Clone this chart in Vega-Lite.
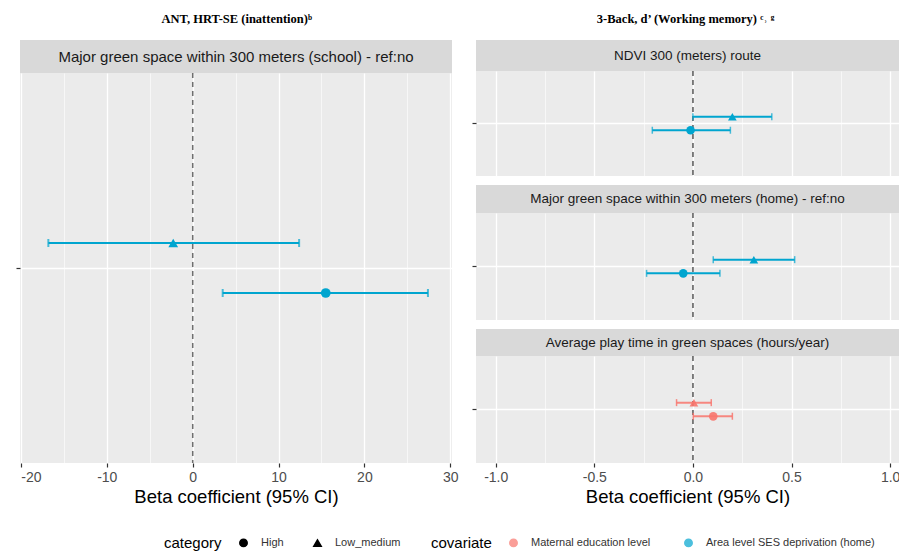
{
  "$schema": "https://vega.github.io/schema/vega-lite/v6.json",
  "background": "white",
  "padding": {"left": 15, "top": 12, "right": 0, "bottom": 6},
  "config": {
    "font": "Liberation Sans",
    "view": {"stroke": null},
    "axis": {"labelFont": "Liberation Sans", "titleFont": "Liberation Sans"},
    "legend": {"labelFont": "Liberation Sans", "titleFont": "Liberation Sans"},
    "title": {"font": "Liberation Serif", "fontWeight": "bold", "fontSize": 12.5, "color": "black", "anchor": "middle", "offset": 15}
  },
  "datasets": {
    "d": [
      {"panel": "Major green space within  300 meters (school) - ref:no", "outcome": "ANT, HRT-SE", "category": "Low_medium", "covariate": "Area level SES deprivation (home)", "beta": -2.26, "lo": -16.8, "hi": 12.4},
      {"panel": "Major green space within  300 meters (school) - ref:no", "outcome": "ANT, HRT-SE", "category": "High", "covariate": "Area level SES deprivation (home)", "beta": 15.5, "lo": 3.5, "hi": 27.4},
      {"panel": "NDVI 300 (meters) route", "outcome": "3-Back", "category": "Low_medium", "covariate": "Area level SES deprivation (home)", "beta": 0.2, "lo": 0.0, "hi": 0.4},
      {"panel": "NDVI 300 (meters) route", "outcome": "3-Back", "category": "High", "covariate": "Area level SES deprivation (home)", "beta": -0.012, "lo": -0.206, "hi": 0.19},
      {"panel": "Major green space within  300 meters (home) - ref:no", "outcome": "3-Back", "category": "Low_medium", "covariate": "Area level SES deprivation (home)", "beta": 0.309, "lo": 0.103, "hi": 0.516},
      {"panel": "Major green space within  300 meters (home) - ref:no", "outcome": "3-Back", "category": "High", "covariate": "Area level SES deprivation (home)", "beta": -0.049, "lo": -0.235, "hi": 0.137},
      {"panel": "Average play time in green spaces (hours/year)", "outcome": "3-Back", "category": "Low_medium", "covariate": "Maternal education level", "beta": 0.005, "lo": -0.083, "hi": 0.093},
      {"panel": "Average play time in green spaces (hours/year)", "outcome": "3-Back", "category": "High", "covariate": "Maternal education level", "beta": 0.103, "lo": 0.002, "hi": 0.2}
    ]
  },
  "data": {"name": "d"},
  "resolve": {"scale": {"color": "shared", "shape": "shared", "yOffset": "independent", "y": "independent"}},
  "spacing": 12,
  "hconcat": [
    {
      "title": {"text": "ANT, HRT-SE (inattention)ᵇ"},
      "bounds": "flush",
      "spacing": 0,
      "vconcat": [
        {
          "width": 432, "height": 33,
          "view": {"fill": "#D9D9D9", "stroke": null},
          "transform": [{"filter": "datum.panel === 'Major green space within  300 meters (school) - ref:no' && datum.category === 'High'"}],
          "mark": {"type": "text", "fontSize": 15, "color": "#1A1A1A", "font": "Liberation Sans"},
          "encoding": {"text": {"field": "panel"}}
        },
        {
          "width": 432, "height": 390,
          "view": {"fill": "#EBEBEB", "stroke": null},
          "transform": [{"filter": "datum.panel === 'Major green space within  300 meters (school) - ref:no'"}],
          "layer": [
            {
              "mark": {"type": "rule", "strokeDash": [5, 4], "color": "#6E6E6E", "strokeWidth": 1.3},
              "encoding": {"x": {"datum": 0, "type": "quantitative"}}
            },
            {
              "mark": {"type": "rule", "strokeWidth": 2},
              "encoding": {
                "x": {"field": "lo", "type": "quantitative",
                  "scale": {"domain": [-20.1, 30.2], "nice": false, "zero": false},
                  "axis": {
                    "values": [-20, -15, -10, -5, 0, 5, 10, 15, 20, 25, 30],
                    "labelExpr": "datum.value % 10 === 0 ? replace(datum.label, '−', '-') : ''",
                    "grid": true, "gridColor": "white",
                    "gridWidth": {"condition": {"test": "datum.value % 10 === 0", "value": 1.3}, "value": 0.6},
                    "tickColor": {"condition": {"test": "datum.value % 10 === 0", "value": "#333333"}, "value": "transparent"},
                    "tickSize": 4, "tickWidth": 1.2, "domain": false,
                    "labelFontSize": 14, "labelColor": "#4D4D4D", "labelPadding": 3,
                    "title": "Beta coefficient (95% CI)", "titleFontSize": 18.5, "titleFontWeight": "normal", "titleColor": "black", "titlePadding": 3
                  }},
                "x2": {"field": "hi"},
                "y": {"field": "panel", "type": "nominal", "scale": {"paddingInner": 0, "paddingOuter": 0},
                  "axis": {"labels": false, "title": null, "domain": false, "tickSize": 4, "tickColor": "#333333", "tickWidth": 1.2, "grid": true, "gridColor": "white", "gridWidth": 1.3}},
                "yOffset": {"field": "category", "type": "nominal", "scale": {"type": "band", "domain": ["_a", "_b", "Low_medium", "High", "_c", "_d"], "paddingInner": 0, "paddingOuter": 0.9}},
                "color": {"field": "covariate", "type": "nominal", "scale": {"domain": ["Maternal education level", "Area level SES deprivation (home)"], "range": ["#F8766D", "#00A5CF"]}}
              }
            },
            {
              "mark": {"type": "tick", "orient": "vertical", "size": 8, "thickness": 2},
              "encoding": {
                "x": {"field": "lo", "type": "quantitative"},
                "y": {"field": "panel", "type": "nominal"},
                "yOffset": {"field": "category", "type": "nominal"},
                "color": {"field": "covariate", "type": "nominal"}
              }
            },
            {
              "mark": {"type": "tick", "orient": "vertical", "size": 8, "thickness": 2},
              "encoding": {
                "x": {"field": "hi", "type": "quantitative"},
                "y": {"field": "panel", "type": "nominal"},
                "yOffset": {"field": "category", "type": "nominal"},
                "color": {"field": "covariate", "type": "nominal"}
              }
            },
            {
              "mark": {"type": "point", "filled": true, "size": 95, "opacity": 1},
              "encoding": {
                "x": {"field": "beta", "type": "quantitative"},
                "y": {"field": "panel", "type": "nominal"},
                "yOffset": {"field": "category", "type": "nominal"},
                "shape": {"field": "category", "type": "nominal", "scale": {"domain": ["High", "Low_medium"], "range": ["circle", "triangle-up"]},
                  "legend": {"title": "category", "orient": "none", "legendX": 144, "legendY": 497, "direction": "horizontal", "titleOrient": "left", "titleFontSize": 15, "titleFontWeight": "normal", "titleColor": "black", "labelFontSize": 11, "labelColor": "#333333", "symbolFillColor": "black", "symbolStrokeColor": "black", "symbolSize": 55, "columnPadding": 26, "labelOffset": 12, "titlePadding": 16}},
                "color": {"field": "covariate", "type": "nominal",
                  "legend": {"title": "covariate", "orient": "none", "legendX": 411, "legendY": 497, "direction": "horizontal", "titleOrient": "left", "titleFontSize": 15, "titleFontWeight": "normal", "titleColor": "black", "labelFontSize": 11, "labelColor": "#333333", "labelLimit": 300, "symbolType": "circle", "symbolSize": 55, "columnPadding": 30, "labelOffset": 12, "titlePadding": 16}}
              }
            }
          ]
        }
      ]
    },
    {
      "title": {"text": "3-Back, d’ (Working memory) ᶜ˒ ᵍ"},
      "spacing": 8,
      "resolve": {"scale": {"yOffset": "independent", "y": "independent"}},
      "vconcat": [
        {
          "bounds": "flush",
          "spacing": 0,
          "vconcat": [
            {
              "width": 423, "height": 31,
              "view": {"fill": "#D9D9D9", "stroke": null},
              "transform": [{"filter": "datum.panel === 'NDVI 300 (meters) route' && datum.category === 'High'"}],
              "mark": {"type": "text", "fontSize": 13.5, "color": "#1A1A1A", "font": "Liberation Sans"},
              "encoding": {"text": {"field": "panel"}}
            },
            {
              "width": 423, "height": 105,
              "view": {"fill": "#EBEBEB", "stroke": null},
              "transform": [{"filter": "datum.panel === 'NDVI 300 (meters) route'"}],
              "layer": [
                {"mark": {"type": "rule", "strokeDash": [5, 4], "color": "#6E6E6E", "strokeWidth": 1.3}, "encoding": {"x": {"datum": 0, "type": "quantitative"}}},
                {
                  "mark": {"type": "rule", "strokeWidth": 2},
                  "encoding": {
                    "x": {"field": "lo", "type": "quantitative", "scale": {"domain": [-1.1, 1.045], "nice": false, "zero": false},
                      "axis": {"values": [-1, -0.75, -0.5, -0.25, 0, 0.25, 0.5, 0.75, 1], "labels": false, "ticks": false, "domain": false, "title": null, "grid": true, "gridColor": "white",
                        "gridWidth": {"condition": {"test": "abs(datum.value * 2 - round(datum.value * 2)) < 0.001", "value": 1.3}, "value": 0.6}}},
                    "x2": {"field": "hi"},
                    "y": {"field": "panel", "type": "nominal", "scale": {"paddingInner": 0, "paddingOuter": 0},
                      "axis": {"labels": false, "title": null, "domain": false, "tickSize": 4, "tickColor": "#333333", "tickWidth": 1.2, "grid": true, "gridColor": "white", "gridWidth": 1.3}},
                    "yOffset": {"field": "category", "type": "nominal", "scale": {"type": "band", "domain": ["_a", "_b", "Low_medium", "High", "_c", "_d"], "paddingInner": 0, "paddingOuter": 0.9}},
                    "color": {"field": "covariate", "type": "nominal"}
                  }
                },
                {"mark": {"type": "tick", "orient": "vertical", "size": 7, "thickness": 1.5}, "encoding": {"x": {"field": "lo", "type": "quantitative"}, "y": {"field": "panel", "type": "nominal"}, "yOffset": {"field": "category", "type": "nominal"}, "color": {"field": "covariate", "type": "nominal"}}},
                {"mark": {"type": "tick", "orient": "vertical", "size": 7, "thickness": 1.5}, "encoding": {"x": {"field": "hi", "type": "quantitative"}, "y": {"field": "panel", "type": "nominal"}, "yOffset": {"field": "category", "type": "nominal"}, "color": {"field": "covariate", "type": "nominal"}}},
                {"mark": {"type": "point", "filled": true, "size": 75, "opacity": 1}, "encoding": {"x": {"field": "beta", "type": "quantitative"}, "y": {"field": "panel", "type": "nominal"}, "yOffset": {"field": "category", "type": "nominal"}, "shape": {"field": "category", "type": "nominal"}, "color": {"field": "covariate", "type": "nominal"}}}
              ]
            }
          ]
        },
        {
          "bounds": "flush",
          "spacing": 0,
          "vconcat": [
            {
              "width": 423, "height": 28,
              "view": {"fill": "#D9D9D9", "stroke": null},
              "transform": [{"filter": "datum.panel === 'Major green space within  300 meters (home) - ref:no' && datum.category === 'High'"}],
              "mark": {"type": "text", "fontSize": 13.5, "color": "#1A1A1A", "font": "Liberation Sans"},
              "encoding": {"text": {"field": "panel"}}
            },
            {
              "width": 423, "height": 107,
              "view": {"fill": "#EBEBEB", "stroke": null},
              "transform": [{"filter": "datum.panel === 'Major green space within  300 meters (home) - ref:no'"}],
              "layer": [
                {"mark": {"type": "rule", "strokeDash": [5, 4], "color": "#6E6E6E", "strokeWidth": 1.3}, "encoding": {"x": {"datum": 0, "type": "quantitative"}}},
                {
                  "mark": {"type": "rule", "strokeWidth": 2},
                  "encoding": {
                    "x": {"field": "lo", "type": "quantitative", "scale": {"domain": [-1.1, 1.045], "nice": false, "zero": false},
                      "axis": {"values": [-1, -0.75, -0.5, -0.25, 0, 0.25, 0.5, 0.75, 1], "labels": false, "ticks": false, "domain": false, "title": null, "grid": true, "gridColor": "white",
                        "gridWidth": {"condition": {"test": "abs(datum.value * 2 - round(datum.value * 2)) < 0.001", "value": 1.3}, "value": 0.6}}},
                    "x2": {"field": "hi"},
                    "y": {"field": "panel", "type": "nominal", "scale": {"paddingInner": 0, "paddingOuter": 0},
                      "axis": {"labels": false, "title": null, "domain": false, "tickSize": 4, "tickColor": "#333333", "tickWidth": 1.2, "grid": true, "gridColor": "white", "gridWidth": 1.3}},
                    "yOffset": {"field": "category", "type": "nominal", "scale": {"type": "band", "domain": ["_a", "_b", "Low_medium", "High", "_c", "_d"], "paddingInner": 0, "paddingOuter": 0.9}},
                    "color": {"field": "covariate", "type": "nominal"}
                  }
                },
                {"mark": {"type": "tick", "orient": "vertical", "size": 7, "thickness": 1.5}, "encoding": {"x": {"field": "lo", "type": "quantitative"}, "y": {"field": "panel", "type": "nominal"}, "yOffset": {"field": "category", "type": "nominal"}, "color": {"field": "covariate", "type": "nominal"}}},
                {"mark": {"type": "tick", "orient": "vertical", "size": 7, "thickness": 1.5}, "encoding": {"x": {"field": "hi", "type": "quantitative"}, "y": {"field": "panel", "type": "nominal"}, "yOffset": {"field": "category", "type": "nominal"}, "color": {"field": "covariate", "type": "nominal"}}},
                {"mark": {"type": "point", "filled": true, "size": 75, "opacity": 1}, "encoding": {"x": {"field": "beta", "type": "quantitative"}, "y": {"field": "panel", "type": "nominal"}, "yOffset": {"field": "category", "type": "nominal"}, "shape": {"field": "category", "type": "nominal"}, "color": {"field": "covariate", "type": "nominal"}}}
              ]
            }
          ]
        },
        {
          "bounds": "flush",
          "spacing": 0,
          "vconcat": [
            {
              "width": 423, "height": 27,
              "view": {"fill": "#D9D9D9", "stroke": null},
              "transform": [{"filter": "datum.panel === 'Average play time in green spaces (hours/year)' && datum.category === 'High'"}],
              "mark": {"type": "text", "fontSize": 13.5, "color": "#1A1A1A", "font": "Liberation Sans"},
              "encoding": {"text": {"field": "panel"}}
            },
            {
              "width": 423, "height": 107,
              "view": {"fill": "#EBEBEB", "stroke": null},
              "transform": [{"filter": "datum.panel === 'Average play time in green spaces (hours/year)'"}],
              "layer": [
                {"mark": {"type": "rule", "strokeDash": [5, 4], "color": "#6E6E6E", "strokeWidth": 1.3}, "encoding": {"x": {"datum": 0, "type": "quantitative"}}},
                {
                  "mark": {"type": "rule", "strokeWidth": 2, "opacity": 0.85},
                  "encoding": {
                    "x": {"field": "lo", "type": "quantitative", "scale": {"domain": [-1.1, 1.045], "nice": false, "zero": false},
                      "axis": {"values": [-1, -0.75, -0.5, -0.25, 0, 0.25, 0.5, 0.75, 1],
                        "labelExpr": "abs(datum.value * 2 - round(datum.value * 2)) < 0.001 ? replace(datum.label, '−', '-') : ''",
                        "format": ".1f",
                        "tickColor": {"condition": {"test": "abs(datum.value * 2 - round(datum.value * 2)) < 0.001", "value": "#333333"}, "value": "transparent"},
                        "tickSize": 4, "tickWidth": 1.2, "domain": false, "grid": true, "gridColor": "white",
                        "gridWidth": {"condition": {"test": "abs(datum.value * 2 - round(datum.value * 2)) < 0.001", "value": 1.3}, "value": 0.6},
                        "labelFontSize": 14, "labelColor": "#4D4D4D", "labelPadding": 3,
                        "title": "Beta coefficient (95% CI)", "titleFontSize": 18.5, "titleFontWeight": "normal", "titleColor": "black", "titlePadding": 3}},
                    "x2": {"field": "hi"},
                    "y": {"field": "panel", "type": "nominal", "scale": {"paddingInner": 0, "paddingOuter": 0},
                      "axis": {"labels": false, "title": null, "domain": false, "tickSize": 4, "tickColor": "#333333", "tickWidth": 1.2, "grid": true, "gridColor": "white", "gridWidth": 1.3}},
                    "yOffset": {"field": "category", "type": "nominal", "scale": {"type": "band", "domain": ["_a", "_b", "Low_medium", "High", "_c", "_d"], "paddingInner": 0, "paddingOuter": 0.9}},
                    "color": {"field": "covariate", "type": "nominal"}
                  }
                },
                {"mark": {"type": "tick", "orient": "vertical", "size": 7, "thickness": 1.5, "opacity": 0.85}, "encoding": {"x": {"field": "lo", "type": "quantitative"}, "y": {"field": "panel", "type": "nominal"}, "yOffset": {"field": "category", "type": "nominal"}, "color": {"field": "covariate", "type": "nominal"}}},
                {"mark": {"type": "tick", "orient": "vertical", "size": 7, "thickness": 1.5, "opacity": 0.85}, "encoding": {"x": {"field": "hi", "type": "quantitative"}, "y": {"field": "panel", "type": "nominal"}, "yOffset": {"field": "category", "type": "nominal"}, "color": {"field": "covariate", "type": "nominal"}}},
                {"mark": {"type": "point", "filled": true, "size": 75, "opacity": 0.9}, "encoding": {"x": {"field": "beta", "type": "quantitative"}, "y": {"field": "panel", "type": "nominal"}, "yOffset": {"field": "category", "type": "nominal"}, "shape": {"field": "category", "type": "nominal"}, "color": {"field": "covariate", "type": "nominal"}}}
              ]
            }
          ]
        }
      ]
    }
  ]
}
